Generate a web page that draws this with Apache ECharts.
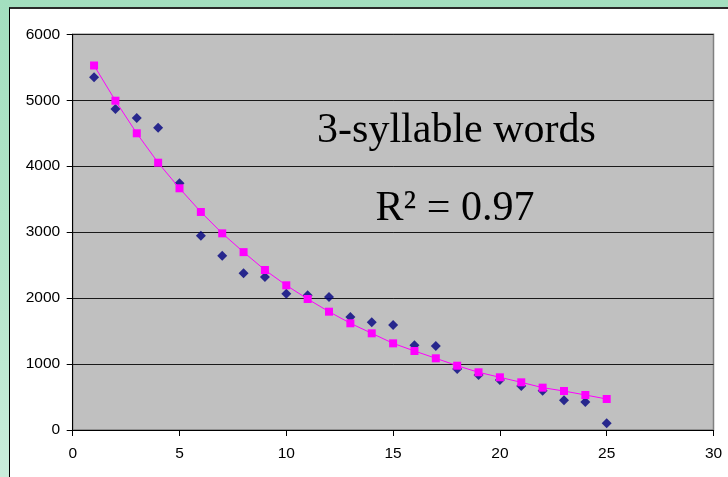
<!DOCTYPE html>
<html>
<head>
<meta charset="utf-8">
<script src="https://cdn.jsdelivr.net/npm/echarts@6/dist/echarts.min.js"></script>
<style>
  html, body { margin: 0; padding: 0; }
  #wrap { position: relative; width: 728px; height: 477px; overflow: hidden;
          background: linear-gradient(to bottom, #a3dfbf 0%, #b4e5ca 55%, #c9eddb 100%); }
  #paper { position: absolute; left: 9px; top: 7px; width: 730px; height: 480px;
           background: #ffffff; border-top: 2px solid #2a2a2a; border-left: 1px solid #000; }
  #chart { position: absolute; left: 0; top: 0; width: 728px; height: 477px; }
</style>
</head>
<body>
<div id="wrap">
  <div id="paper"></div>
  <div id="chart"></div>
</div>
<script>
// Observed values (blue diamonds)
const xValues = [1,2,3,4,5,6,7,8,9,10,11,12,13,14,15,16,17,18,19,20,21,22,23,24,25];
const observed = [5350,4867,4731,4584,3741,2946,2643,2376,2320,2067,2042,2017,1713,1633,1592,1284,1274,925,834,758,667,596,450,425,101];
// Fitted values (magenta squares with line)
const fitted = [5527,4993,4499,4053,3665,3306,2982,2697,2426,2194,1986,1794,1618,1466,1314,1198,1087,975,875,799,723,642,591,531,470];
const xTicks = [0,5,10,15,20,25,30];
const yTicks = [0,1000,2000,3000,4000,5000,6000];
const titleText = '3-syllable words';
const r2Text = 'R\u00B2 = 0.97';

const chart = echarts.init(document.getElementById('chart'), null, { renderer: 'canvas' });

chart.setOption({
  animation: false,
  backgroundColor: 'transparent',
  textStyle: { fontFamily: 'Liberation Sans', fontSize: 15, color: '#000' },
  grid: { left: 72.7, right: 14.5, top: 34.3, bottom: 47, show: true,
          backgroundColor: '#c0c0c0', borderColor: '#808080', borderWidth: 1.5 },
  xAxis: {
    type: 'value', min: xTicks[0], max: xTicks[xTicks.length - 1], interval: 5,
    axisLine: { show: true, onZero: false, lineStyle: { color: '#000', width: 1 } },
    axisTick: { show: true, length: 6, lineStyle: { color: '#000' } },
    axisLabel: { margin: 16, formatter: v => String(v),
                 fontFamily: 'Liberation Sans', fontSize: 15.5, color: '#000' },
    splitLine: { show: false }
  },
  yAxis: {
    type: 'value', min: yTicks[0], max: yTicks[yTicks.length - 1], interval: 1000,
    axisLine: { show: true, onZero: false, lineStyle: { color: '#000', width: 1 } },
    axisTick: { show: true, length: 6, lineStyle: { color: '#000' } },
    axisLabel: { margin: 12.5, formatter: v => String(v),
                 fontFamily: 'Liberation Sans', fontSize: 15.5, color: '#000' },
    splitLine: { show: true, lineStyle: { color: '#1a1a1a', width: 1 } }
  },
  series: [
    {
      type: 'line',
      data: xValues.map((x, i) => [x, fitted[i]]),
      symbol: 'rect', symbolSize: 8,
      lineStyle: { color: '#ff00ff', width: 1 },
      itemStyle: { color: '#ff00ff' },
      z: 3
    },
    {
      type: 'scatter',
      data: xValues.map((x, i) => [x, observed[i]]),
      symbol: 'diamond', symbolSize: [10, 10],
      itemStyle: { color: '#000080' },
      z: 2
    }
  ],
  graphic: [
    { type: 'text', x: 456.5, y: 131, z: 10,
      style: { text: titleText, font: '42px "Liberation Serif"', fill: '#000',
               textAlign: 'center', textVerticalAlign: 'middle' } },
    { type: 'text', x: 455, y: 209, z: 10,
      style: { text: r2Text, font: '42px "Liberation Serif"', fill: '#000',
               textAlign: 'center', textVerticalAlign: 'middle' } }
  ]
});
</script>
</body>
</html>
